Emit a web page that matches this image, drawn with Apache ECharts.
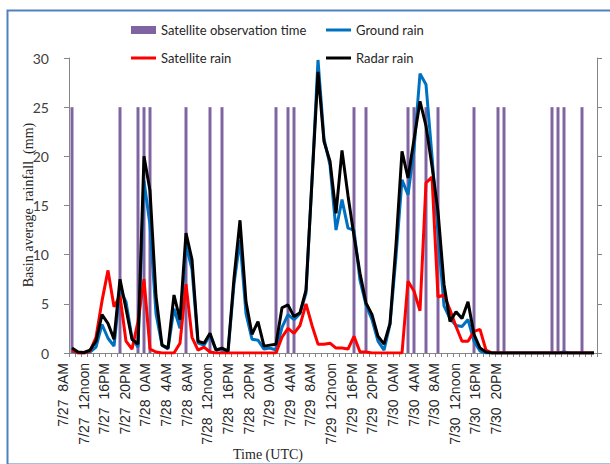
<!DOCTYPE html>
<html>
<head>
<meta charset="utf-8">
<script src="https://cdn.jsdelivr.net/npm/echarts@6/dist/echarts.min.js"></script>
<style>
  html, body { margin: 0; padding: 0; background: #ffffff; }
  #chart { width: 610px; height: 464px; }
</style>
</head>
<body>
<div id="chart"></div>
<script>
// Hourly basin-average rainfall (mm), 88 hours starting 7/27 8AM UTC
const hourCount = 88;

// Tick labels along the time axis
const timeLabels = [
  "7/27  8AM", "7/27  12noon", "7/27  16PM", "7/27  20PM",
  "7/28  0AM", "7/28  4AM", "7/28  8AM", "7/28  12noon", "7/28  16PM", "7/28  20PM",
  "7/29  0AM", "7/29  4AM", "7/29  8AM", "7/29  12noon", "7/29  16PM", "7/29  20PM",
  "7/30  0AM", "7/30  4AM", "7/30  8AM", "7/30  12noon", "7/30  16PM", "7/30  20PM"
];

// Satellite overpass marker (25 = overpass hour, 0 = none)
const satelliteObservation = [
  25, 0, 0, 0, 0, 0, 0, 0, 25, 0,
  0, 25, 25, 25, 0, 0, 0, 0, 0, 25,
  0, 0, 0, 25, 0, 25, 0, 0, 0, 0,
  0, 0, 0, 0, 25, 0, 25, 25, 0, 0,
  0, 0, 0, 0, 0, 0, 0, 25, 0, 25,
  0, 0, 0, 0, 0, 0, 25, 25, 0, 25,
  0, 25, 0, 0, 0, 0, 0, 25, 0, 0,
  0, 25, 25, 0, 0, 0, 0, 0, 0, 0,
  25, 25, 25, 0, 0, 25, 0, 0
];

const groundRain = [
  0.2, 0, 0, 0.1, 0.6, 2.9, 1.5, 0.7, 6.5, 5.2,
  1.5, 0.6, 17.5, 13.0, 4.0, 0.8, 0.4, 4.5, 2.5, 11.0,
  8.5, 1.0, 0.8, 1.8, 0.3, 0.4, 0.1, 7.0, 11.5, 4.0,
  1.4, 1.3, 0.4, 0.5, 0.3, 2.6, 3.9, 3.4, 4.0, 6.1,
  17.6, 29.8, 21.8, 19.1, 12.5, 15.6, 12.7, 12.5, 7.4, 4.9,
  3.4, 1.2, 0.3, 2.9, 9.8, 17.6, 16.1, 20.7, 28.4, 27.3,
  20.0, 12.2, 4.8, 3.5, 2.8, 2.7, 3.4, 1.2, 0.2, 0,
  0, 0, 0, 0, 0, 0, 0, 0, 0, 0,
  0, 0, 0.1, 0, 0, 0, 0, 0
];

const satelliteRain = [
  0.3, 0, 0, 0.2, 1.6, 5.3, 8.4, 4.7, 5.8, 1.2,
  0.4, 3.2, 7.5, 0.4, 0.1, 0, 0, 0, 1.0, 7.0,
  1.6, 0.3, 0.6, 0.1, 0, 0, 0, 0, 0, 0,
  0, 0, 0, 0, 0, 1.6, 2.5, 2.0, 2.8, 5.0,
  2.8, 0.9, 0.9, 1.0, 0.5, 0.5, 0.4, 1.7, 0.1, 0.1,
  0, 0, 0, 0, 0, 0, 7.3, 6.3, 4.3, 17.3,
  17.9, 5.7, 5.9, 4.4, 2.7, 1.2, 1.2, 2.2, 2.4, 0.3,
  0, 0, 0, 0, 0, 0, 0, 0, 0, 0,
  0, 0, 0, 0, 0, 0, 0, 0
];

const radarRain = [
  0.5, 0.1, 0.05, 0.3, 1.2, 3.9, 3.0, 1.4, 7.5, 4.5,
  1.4, 0.9, 20.0, 16.5, 5.8, 0.8, 0.5, 5.9, 3.4, 12.2,
  9.5, 1.2, 1.0, 2.0, 0.3, 0.5, 0.2, 7.6, 13.5, 5.2,
  1.9, 3.2, 0.7, 0.8, 0.9, 4.6, 4.9, 3.7, 4.1, 6.4,
  17.5, 28.6, 21.5, 19.5, 14.2, 20.6, 16.0, 11.9, 8.1, 5.1,
  3.9, 1.7, 0.9, 3.0, 11.0, 20.5, 17.8, 21.7, 25.6, 23.1,
  19.0, 14.4, 7.0, 3.2, 4.2, 3.5, 5.2, 1.9, 0.5, 0.1,
  0, 0, 0, 0, 0, 0, 0, 0, 0, 0,
  0, 0, 0, 0, 0, 0, 0, 0
];

// Hour slots for the data axis
const hourSlots = [];
for (let h = 0; h < hourCount; h++) hourSlots.push(String(h));

const axisGray = '#868686';
const legendText = { fontFamily: 'Lato', fontSize: 13, color: '#262626', lineHeight: 16 };

// One legend block per entry so each icon keeps its own shape
function legendEntry(name, left, top, iconHeight) {
  return {
    orient: 'horizontal', left: left, top: top, padding: 0,
    itemWidth: 25, itemHeight: iconHeight,
    textStyle: legendText,
    data: [{ name: name, icon: 'rect' }]
  };
}

const chart = echarts.init(document.getElementById('chart'), null, { renderer: 'svg' });

chart.setOption({
  animation: false,
  backgroundColor: '#ffffff',
  textStyle: { fontFamily: 'Lato' },
  grid: [
    { left: 69, right: 13, top: 58, bottom: 111 },
    { left: 63, right: 114, top: 58, bottom: 111 }
  ],
  legend: [
    legendEntry('Satellite observation time', 131, 22, 8),
    legendEntry('Satellite rain', 131, 50, 3),
    legendEntry('Ground rain', 326, 22, 3),
    legendEntry('Radar rain', 326, 50, 3)
  ],
  xAxis: [
    {
      type: 'category', gridIndex: 0, data: hourSlots, boundaryGap: true,
      axisLine: { lineStyle: { color: axisGray, width: 1 } },
      axisTick: { show: true, interval: 0, length: 4, lineStyle: { color: axisGray } },
      axisLabel: { show: false },
      splitLine: { show: false }
    },
    {
      type: 'category', gridIndex: 1, data: timeLabels, boundaryGap: false,
      axisLine: { show: false },
      axisTick: { show: false },
      axisLabel: {
        show: true, interval: 0, rotate: 90, margin: 10,
        fontFamily: 'Liberation Sans', fontSize: 14, color: '#262626'
      },
      splitLine: { show: false }
    }
  ],
  yAxis: [
    {
      type: 'value', gridIndex: 0, min: 0, max: 30, interval: 5, position: 'left',
      axisLine: { show: true, lineStyle: { color: axisGray } },
      axisTick: { show: true, length: 5, lineStyle: { color: axisGray } },
      axisLabel: { margin: 20, fontFamily: 'Lato', fontSize: 14, color: '#404040' },
      splitLine: { show: false }
    },
    {
      type: 'value', gridIndex: 0, min: 0, max: 30, interval: 5, position: 'right',
      axisLine: { show: true, lineStyle: { color: axisGray } },
      axisTick: { show: true, length: 5, lineStyle: { color: axisGray } },
      axisLabel: { show: false },
      splitLine: { show: false }
    },
    {
      type: 'value', gridIndex: 1, show: false, min: 0, max: 30
    }
  ],
  series: [
    {
      name: 'Satellite observation time', type: 'bar',
      xAxisIndex: 0, yAxisIndex: 0,
      data: satelliteObservation, barWidth: 3,
      itemStyle: { color: '#8064A2' }
    },
    {
      name: 'Ground rain', type: 'line', xAxisIndex: 0, yAxisIndex: 0,
      data: groundRain, symbol: 'none',
      lineStyle: { color: '#0070C0', width: 3 }, itemStyle: { color: '#0070C0' }
    },
    {
      name: 'Satellite rain', type: 'line', xAxisIndex: 0, yAxisIndex: 0,
      data: satelliteRain, symbol: 'none',
      lineStyle: { color: '#FF0000', width: 3 }, itemStyle: { color: '#FF0000' }
    },
    {
      name: 'Radar rain', type: 'line', xAxisIndex: 0, yAxisIndex: 0,
      data: radarRain, symbol: 'none',
      lineStyle: { color: '#000000', width: 3 }, itemStyle: { color: '#000000' }
    }
  ],
  graphic: [
    {
      type: 'rect', left: 5, top: 8, z: -10,
      shape: { width: 610, height: 454 },
      style: { fill: 'none', stroke: '#4F81BD', lineWidth: 2 }
    },
    {
      type: 'text', x: 28, y: 205, rotation: Math.PI / 2,
      style: {
        text: 'Basin average  rainfall  (mm)',
        font: '14px "Liberation Serif"', fill: '#262626',
        textAlign: 'center', textVerticalAlign: 'middle'
      }
    },
    {
      type: 'text', x: 268, y: 454,
      style: {
        text: 'Time (UTC)',
        font: '14px "Liberation Serif"', fill: '#262626',
        textAlign: 'center', textVerticalAlign: 'middle'
      }
    }
  ]
});
</script>
</body>
</html>
